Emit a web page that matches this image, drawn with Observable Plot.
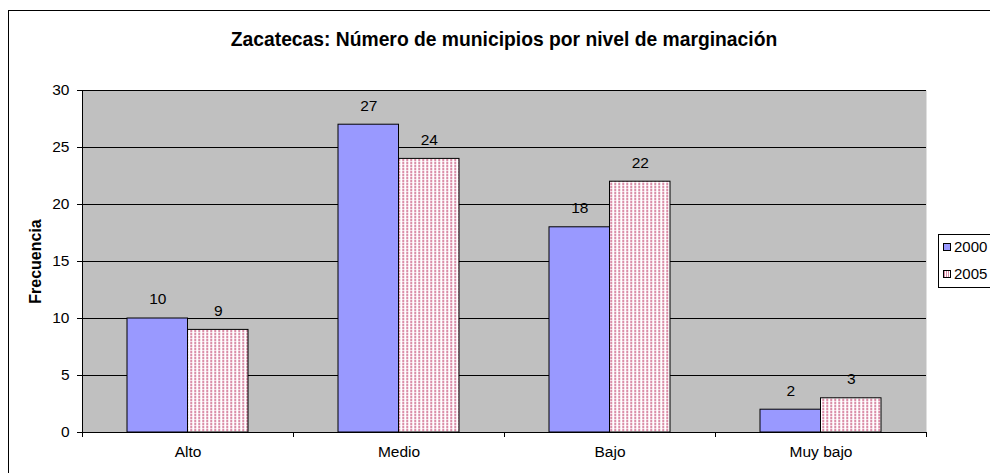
<!DOCTYPE html>
<html>
<head>
<meta charset="utf-8">
<script src="https://cdn.jsdelivr.net/npm/d3@7"></script>
<script src="https://cdn.jsdelivr.net/npm/@observablehq/plot@0.6"></script>
<style>
  html, body { margin: 0; padding: 0; background: #fff; width: 990px; height: 473px; overflow: hidden; }
  body { position: relative; font-family: "Liberation Sans", Arial, sans-serif; }
  #frame { position: absolute; left: 8px; top: 10px; width: 1100px; height: 600px; border: 1px solid #000; box-sizing: border-box; }
  #chart { position: absolute; left: 0; top: 0; }
  #title { position: absolute; left: 82px; width: 844px; top: 29px; text-align: center; font-weight: bold; font-size: 19.3px; color: #000; }
  #legend { position: absolute; left: 938px; top: 234px; width: 80px; height: 54px; border: 1px solid #000; background: #fff; box-sizing: border-box; font-size: 15px; }
  .item { position: absolute; left: 4px; height: 16px; line-height: 16px; white-space: nowrap; }
  .sw { display: inline-block; width: 6px; height: 6px; border: 1px solid #000; margin-right: 3px; vertical-align: 1px; }
</style>
</head>
<body>
<div id="frame"></div>
<div id="chart"></div>
<div id="title">Zacatecas: Número de municipios por nivel de marginación</div>
<div id="legend"></div>
<script>
const categories = ["Alto", "Medio", "Bajo", "Muy bajo"];
const years = ["2000", "2005"];
const values2000 = [10, 27, 18, 2];
const values2005 = [9, 24, 22, 3];
const yTicks = [0, 5, 10, 15, 20, 25, 30];

const W = 990, H = 473;
const mL = 82, mR = 64, mT = 90, mB = 41;
const bw = (W - mL - mR) / categories.length;
const barW = 60.5;
const ins = (bw - barW) / 2;
const FS = 15.5;

const d2000 = categories.map((c, i) => ({cat: c, v: values2000[i]}));
const d2005 = categories.map((c, i) => ({cat: c, v: values2005[i]}));

const chart = Plot.plot({
  width: W, height: H,
  marginLeft: mL, marginRight: mR, marginTop: mT, marginBottom: mB,
  style: {fontFamily: "'Liberation Sans', Arial, sans-serif", fontSize: FS + "px", background: "transparent", color: "#000"},
  x: {type: "band", domain: categories, padding: 0},
  y: {domain: [0, 30]},
  marks: [
    Plot.frame({fill: "#c0c0c0", stroke: null}),
    Plot.ruleY(yTicks.slice(1), {stroke: "#000", strokeWidth: 1}),
    Plot.barY(d2000, {x: "cat", y: "v", fill: "#9999ff", stroke: "#000", strokeWidth: 1, insetLeft: ins, insetRight: ins, dx: -barW / 2}),
    Plot.barY(d2005, {x: "cat", y: "v", fill: "url(#dots)", stroke: "#000", strokeWidth: 1, insetLeft: ins, insetRight: ins, dx: barW / 2}),
    Plot.text(d2000, {x: "cat", y: "v", text: d => String(d.v), dx: -barW / 2, dy: -19, fontSize: FS}),
    Plot.text(d2005, {x: "cat", y: "v", text: d => String(d.v), dx: barW / 2, dy: -19, fontSize: FS}),
    Plot.ruleX([0], {x: () => categories[0], dx: -bw / 2, y1: 0, y2: 30, stroke: "#000"}),
    Plot.ruleY([0], {stroke: "#000"}),
    Plot.axisY({ticks: yTicks, tickSize: 5, tickPadding: 8, fontSize: FS, label: "Frecuencia", labelAnchor: "center", labelArrow: "none", labelOffset: 53}),
    Plot.axisX({tickSize: 0, tickPadding: 13, fontSize: FS, label: null}),
    Plot.axisX({ticks: categories, tickSize: 5, text: null, dx: -bw / 2, label: null}),
    Plot.axisX({ticks: [categories[categories.length - 1]], tickSize: 5, text: null, dx: bw / 2, label: null})
  ]
});

// pattern for 2005 bars
const svg = d3.select(chart);
const defs = svg.insert("defs", ":first-child");
const pat = defs.append("pattern").attr("id", "dots").attr("patternUnits", "userSpaceOnUse").attr("width", 4).attr("height", 3);
pat.append("rect").attr("width", 4).attr("height", 3).attr("fill", "#fff");
pat.append("rect").attr("x", 0).attr("y", 0).attr("width", 2).attr("height", 2).attr("fill", "#da8ea8");
pat.append("rect").attr("x", 0).attr("y", 2).attr("width", 2).attr("height", 1).attr("fill", "#f4d6e1");
svg.selectAll("g[aria-label='y-axis label'] text").attr("font-weight", "bold").attr("font-size", 16);

document.getElementById("chart").appendChild(chart);

// legend
const leg = document.getElementById("legend");
years.forEach((y, i) => {
  const it = document.createElement("div");
  it.className = "item";
  it.style.top = (4 + i * 27) + "px";
  const sw = document.createElement("span");
  sw.className = "sw";
  if (i === 0) sw.style.background = "#9999ff";
  else sw.style.background = "repeating-linear-gradient(90deg, #d88ca6 0 1px, #fff 1px 2px)";
  it.appendChild(sw);
  it.appendChild(document.createTextNode(y));
  leg.appendChild(it);
});
</script>
</body>
</html>
